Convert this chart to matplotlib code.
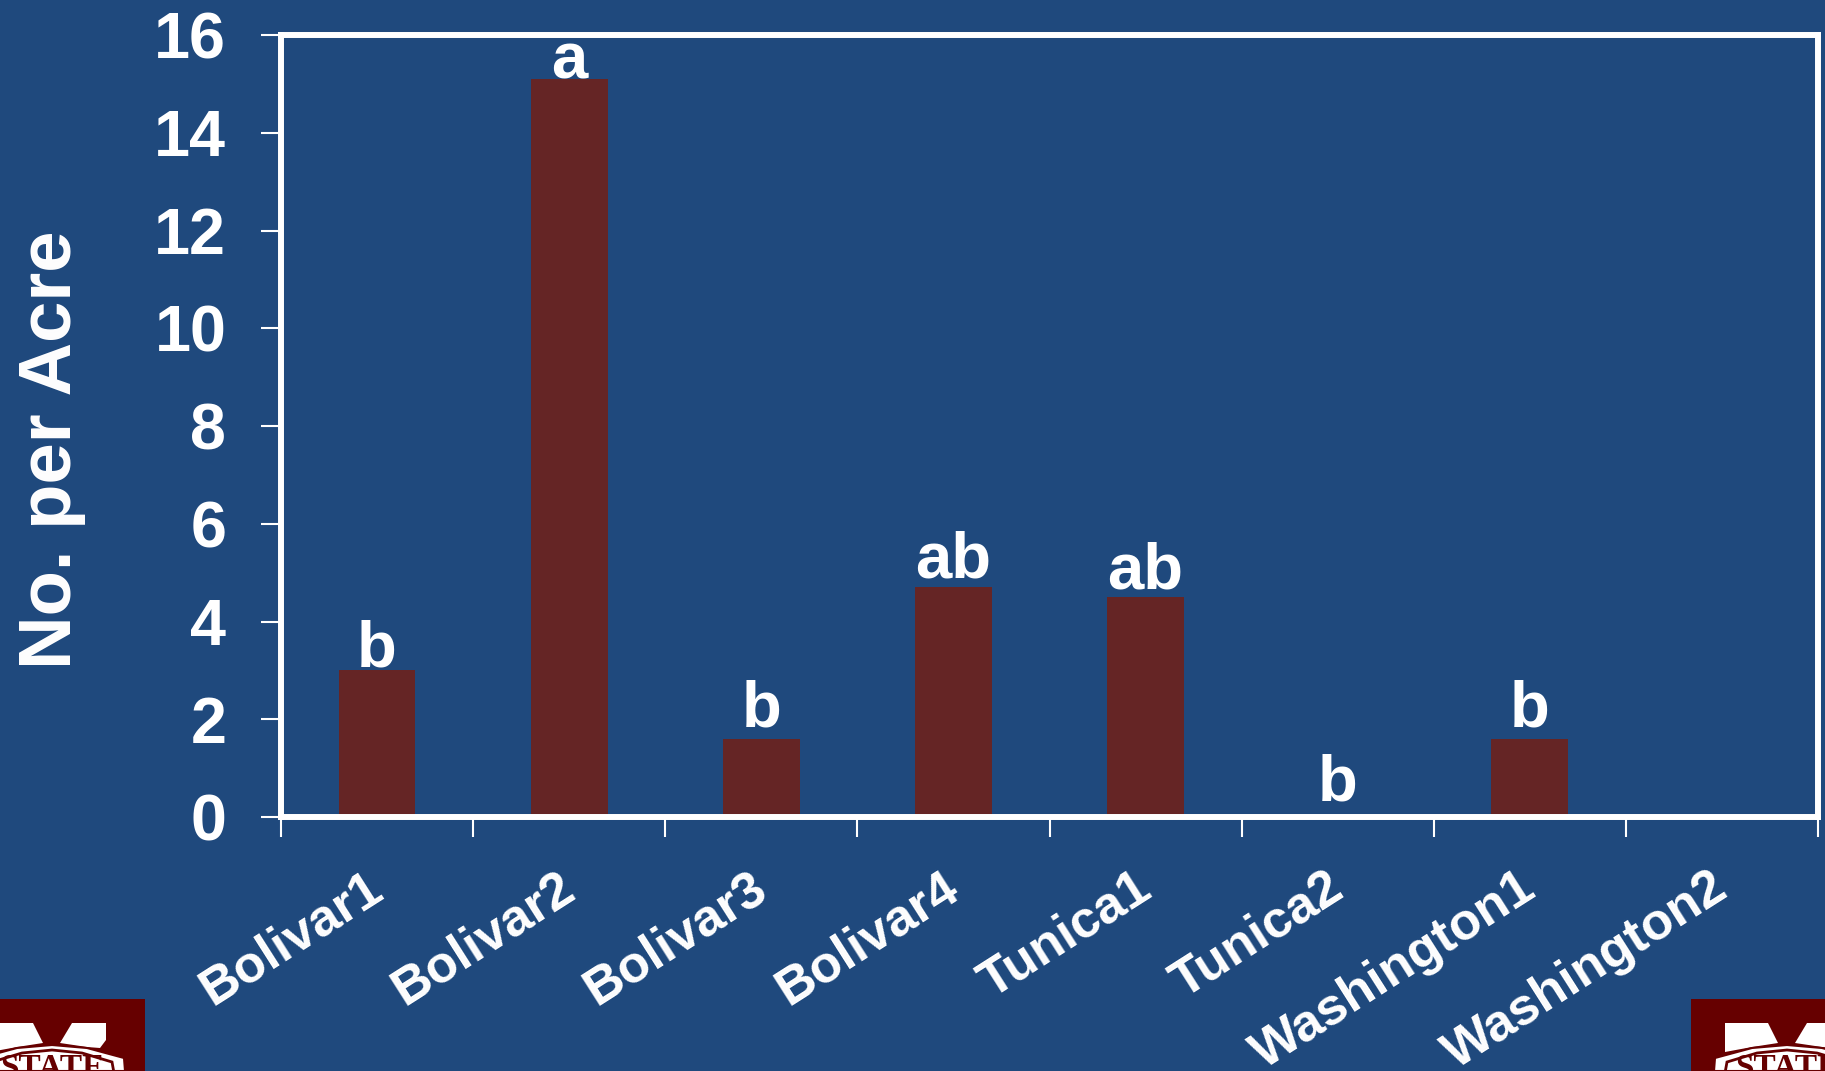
import matplotlib
matplotlib.use('Agg')
import matplotlib.pyplot as plt
from matplotlib.patches import Rectangle, Polygon

W, H = 1825, 1071
BG = '#1f497d'
BAR = '#652525'
LOGO = '#660000'

sites = ['Bolivar1', 'Bolivar2', 'Bolivar3', 'Bolivar4',
         'Tunica1', 'Tunica2', 'Washington1', 'Washington2']
counts = [3.0, 15.1, 1.6, 4.7, 4.5, 0, 1.6, 0]
letters = ['b', 'a', 'b', 'ab', 'ab', 'b', 'b', '']
yticks = [0, 2, 4, 6, 8, 10, 12, 14, 16]

# gap between bar top and letter baseline, it is not the same in the original
letter_gap = [0.08, 0.02, 0.25, 0.2, 0.18, 0.33, 0.25, 0]

plt.rcParams['font.family'] = ['Liberation Sans', 'DejaVu Sans']
plt.rcParams['font.weight'] = 'bold'


def px(x, y):
    # reference pixels to figure fraction
    return x / W, 1 - y / H


def add_poly(fig, pts, **kw):
    fig.add_artist(Polygon([px(*p) for p in pts], transform=fig.transFigure, **kw))


def draw_logo(fig, x0, x1, mx):
    # cropped MSU logo in the bottom corners
    fig.add_artist(Rectangle(px(x0, H), (x1 - x0) / W, 72 / H,
                             transform=fig.transFigure, fc=LOGO, ec='none'))
    add_poly(fig, [(mx - 62, 1023), (mx - 19, 1023), (mx - 9, 1043), (mx - 35, 1047),
                   (mx - 62, 1052)], fc='white', ec='none')
    add_poly(fig, [(mx + 54, 1023), (mx + 20, 1023), (mx + 8, 1043), (mx + 35, 1047),
                   (mx + 48, 1048), (mx + 54, 1040)], fc='white', ec='none')
    add_poly(fig, [(mx - 73, 1071), (mx - 72, 1058), (mx - 35, 1048), (mx, 1045),
                   (mx + 35, 1048), (mx + 72, 1058), (mx + 73, 1071)],
             fc='white', ec=LOGO, lw=1.5)
    add_poly(fig, [(mx - 62, 1073), (mx - 60, 1062), (mx - 30, 1053), (mx, 1050),
                   (mx + 30, 1053), (mx + 60, 1062), (mx + 62, 1073)],
             closed=False, fill=False, ec=LOGO, lw=2)
    tx, ty = px(mx, 1053)
    fig.text(tx, ty, 'STATE', color=LOGO, fontsize=24, ha='center', va='top',
             family=['Liberation Serif'], fontweight='bold')


fig = plt.figure(figsize=(W / 100, H / 100), dpi=100, facecolor=BG)
ax = fig.add_axes([281 / W, 1 - 817 / H, (1818 - 281) / W, (817 - 35) / H], facecolor=BG)

xs = range(len(sites))
ax.bar(xs, counts, width=0.4, color=BAR, zorder=2)
for x, v, s, gap in zip(xs, counts, letters, letter_gap):
    ax.text(x, v + gap, s, color='white', fontsize=47, ha='center', va='baseline',
            fontweight='bold', zorder=3)

ax.set_xlim(-0.5, len(sites) - 0.5)
ax.set_ylim(0, 16)
ax.set_yticks(yticks)
ax.set_xticks([i - 0.5 for i in range(len(sites) + 1)])
ax.set_xticklabels([])
ax.tick_params(axis='y', colors='white', labelsize=46.5, length=14.4, width=1.5, pad=25)
ax.tick_params(axis='x', colors='white', length=14.4, width=1.5)
for lab in ax.get_yticklabels():
    lab.set_fontweight('bold')
for sp in ax.spines.values():
    sp.set_color('white')
    sp.set_linewidth(4.3)

# rotated site names, baseline end sits under the bar centre
for x, s in zip(xs, sites):
    ax.annotate(s, xy=(x, 0), xycoords=('data', 'axes fraction'), xytext=(6, -56),
                textcoords='offset points', rotation=32.5, rotation_mode='anchor',
                ha='right', va='baseline', color='white', fontsize=37.5,
                fontweight='bold', annotation_clip=False)

ax.set_ylabel('No. per Acre', color='white', fontsize=53.5, fontweight='bold')
ax.yaxis.set_label_coords(-0.127, 0.47)

draw_logo(fig, 0, 145, 52)
draw_logo(fig, 1691, 1825, 1787)

fig.savefig('out.png', dpi=100, facecolor=BG)
